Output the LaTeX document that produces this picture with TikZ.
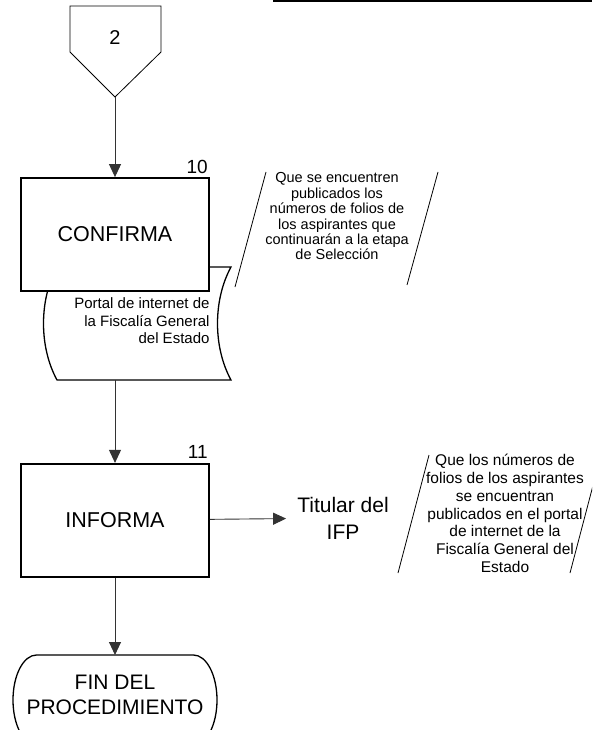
\documentclass[tikz,border=0pt]{standalone}
\usepackage{fontspec}
\setmainfont{Liberation Sans}
\usetikzlibrary{arrows.meta, positioning, calc}

\begin{document}
\begin{tikzpicture}[
    x=1pt, y=-1pt,
    process/.style={rectangle, draw, line width=1.8pt, fill=white, minimum width=188pt, minimum height=113pt, align=center, font=\fontsize{21.5}{25}\selectfont},
    stepnum/.style={anchor=south east, inner sep=0pt, font=\fontsize{19}{21}\selectfont},
    note/.style={align=center, inner sep=0pt},
    arrow/.style={-{Triangle[length=13pt, width=12pt]}, line width=0.9pt, draw=black!80},
    slash/.style={line width=0.8pt}
]
    \useasboundingbox (0,0) rectangle (592,730);
    \clip (0,0) rectangle (592,730);

    % Header rule
    \draw[line width=2.5pt] (273,1) -- (592,1);

    % Off-page connector
    \draw[line width=0.8pt] (70,6) -- (161,6) -- (161,52) -- (115,97) coordinate (offtip) -- (70,52) -- cycle;
    \node[font=\fontsize{20}{22}\selectfont] (conn) at (115,38) {2};

    % Document
    \draw[line width=1.3pt, fill=white] (57,267) -- (231,267) .. controls (213,300) and (213,347) .. (231,380) -- (57,380) .. controls (39,347) and (39,300) .. (57,267) -- cycle;
    \coordinate (docbottom) at (115,380);
    \node[anchor=east, align=right, font=\fontsize{15}{17.5}\selectfont] (portal) at (213,321) {Portal de internet de\\la Fiscalía General\\del Estado};

    % Step 10
    \node[process] (confirma) at (115,234.5) {CONFIRMA};
    \node[stepnum] (num10) at ([xshift=-2pt, yshift=3pt]confirma.north east) {10};

    % Note of step 10
    \node[note, font=\fontsize{14.5}{15.4}\selectfont] (nota1) at (337,216.5) {Que se encuentren\\publicados los\\números de folios de\\los aspirantes que\\continuarán a la etapa\\de Selección};
    \draw[slash] (266,172) -- (235,287);
    \draw[slash] (438,172) -- (407,285);

    % Step 11
    \node[process, below=171pt of confirma] (informa) {INFORMA};
    \node[stepnum] (num11) at ([xshift=-2pt, yshift=4pt]informa.north east) {11};
    \node[inner xsep=11pt, align=center, font=\fontsize{21}{27}\selectfont] (titular) at (343,518) {Titular del\\IFP};

    % Note of step 11
    \node[note, font=\fontsize{15.5}{17.8}\selectfont] (nota2) at (505,513.5) {Que los números de\\folios de los aspirantes\\se encuentran\\publicados en el portal\\de internet de la\\Fiscalía General del\\Estado};
    \draw[slash] (429,455) -- (398,573);
    \draw[slash] (601,455) -- (570,573);

    % End
    \draw[line width=1.3pt] (36.5,655) -- (193.5,655) .. controls (206.5,655) and (217,675.1) .. (217,700) .. controls (217,724.9) and (206.5,745) .. (193.5,745) -- (36.5,745) .. controls (23.5,745) and (13,724.9) .. (13,700) .. controls (13,675.1) and (23.5,655) .. (36.5,655) -- cycle;
    \coordinate (fintop) at (115,655);
    \node[align=center, font=\fontsize{21}{25}\selectfont] (fin) at (115,694.5) {FIN DEL\\PROCEDIMIENTO};

    % Arrows
    \draw[arrow] (offtip) -- (confirma);
    \draw[arrow] (docbottom) -- (informa);
    \draw[arrow] (informa) -- (titular);
    \draw[arrow] (informa) -- (fintop);
\end{tikzpicture}
\end{document}
